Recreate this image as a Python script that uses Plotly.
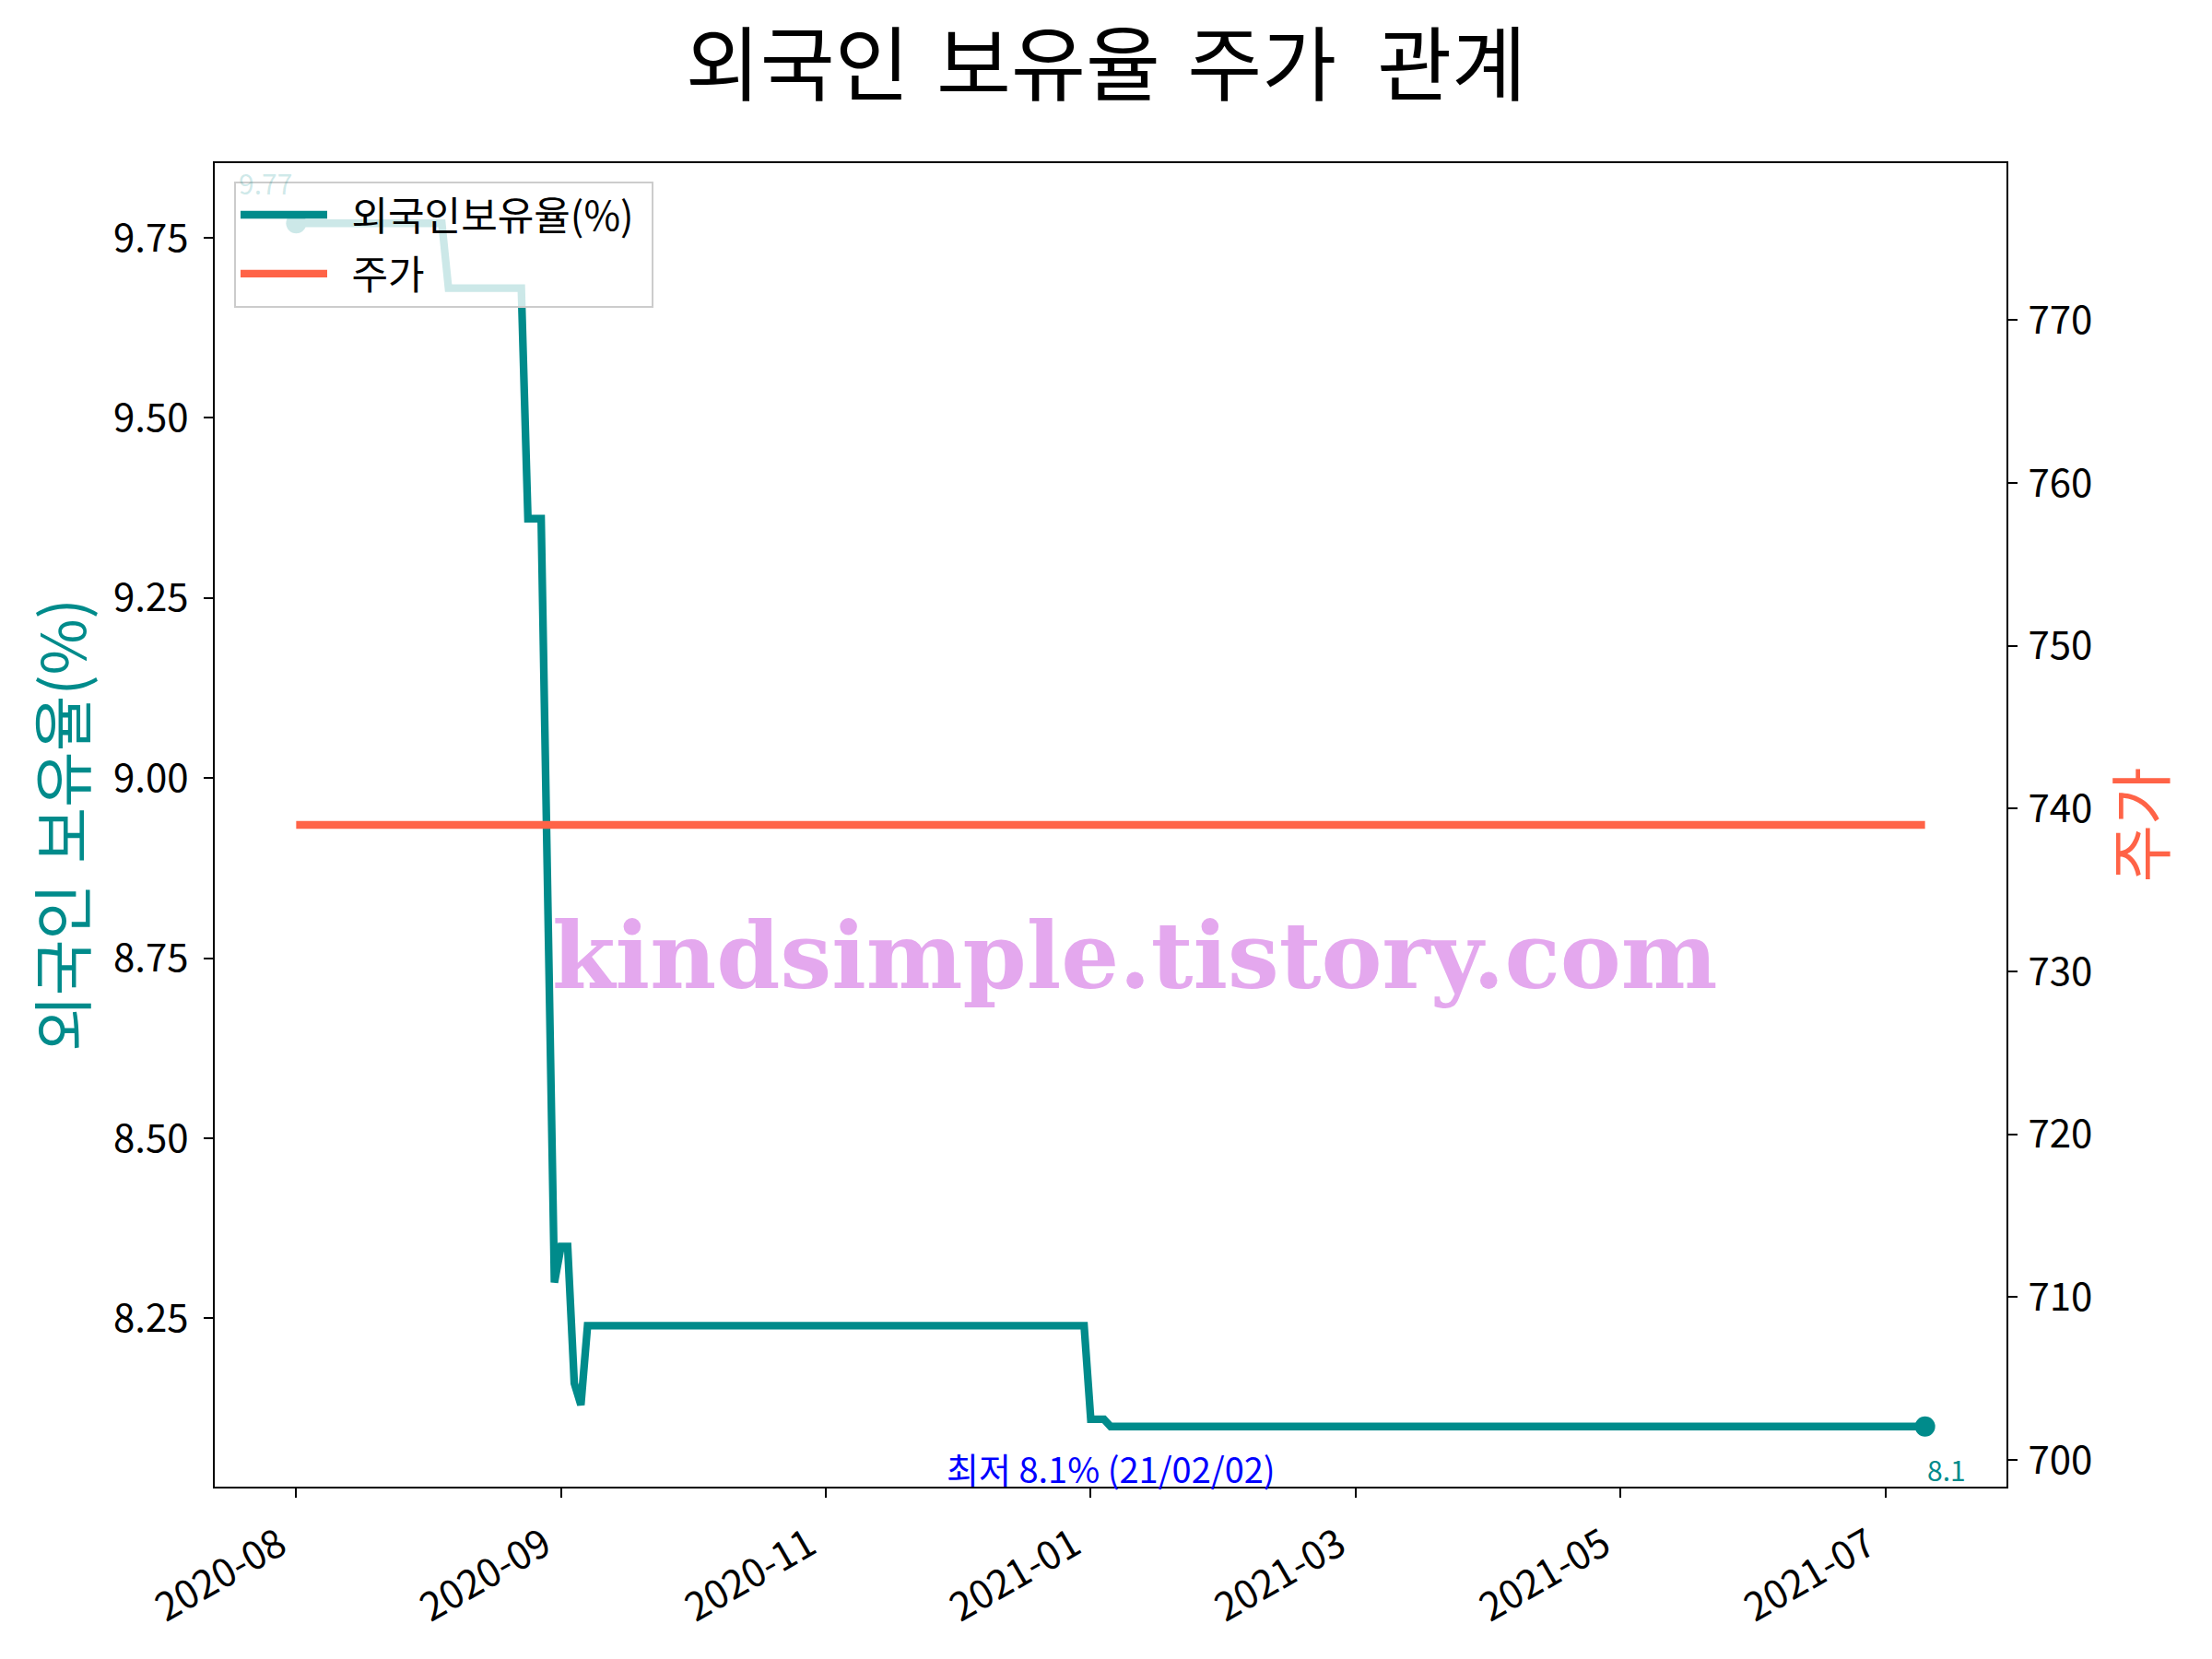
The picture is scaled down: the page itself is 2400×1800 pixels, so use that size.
import plotly.graph_objects as go

# ---------------- data ----------------
# x = trading-day number (0 = 2020-08-03 ... 246 = 2021-07-30); vertices of the step line
ratio_dates = ["2020-08-03", "2020-09-03", "2020-09-04", "2020-09-21", "2020-09-22",
               "2020-09-24", "2020-09-28", "2020-09-29", "2020-10-05", "2020-10-06",
               "2020-10-07", "2020-10-08", "2021-01-27", "2021-01-28", "2021-02-01",
               "2021-02-02", "2021-07-30"]
ratio_idx = [0, 22, 23, 34, 35, 37, 39, 40, 41, 42, 43, 44, 119, 120, 122, 123, 246]
ratio_val = [9.77, 9.77, 9.68, 9.68, 9.36, 9.36, 8.30, 8.35, 8.35, 8.16, 8.13, 8.24,
             8.24, 8.11, 8.11, 8.10, 8.10]

price_idx = [0, 246]
price_val = [739, 739]

tick_idx = [0, 40, 80, 120, 160, 200, 240]
tick_labels = ["2020-08", "2020-09", "2020-11", "2021-01", "2021-03", "2021-05", "2021-07"]

# ---------------- style ----------------
TEAL = "#008B8B"
TEAL_UNDER_LEGEND = "rgba(0,139,139,0.2)"   # start label sits under the translucent legend
TOMATO = "#FF6347"
KR = "Noto Sans CJK KR"
LW = 2.2


def padded(lo, hi, frac=0.05):
    span = hi - lo
    return [lo - frac * span, hi + frac * span]


x_range = padded(min(ratio_idx), max(ratio_idx))
y1_range = padded(min(ratio_val), max(ratio_val))
p0 = price_val[0]
y2_range = padded(p0 - 0.05 * abs(p0), p0 + 0.05 * abs(p0))

min_pos = ratio_val.index(min(ratio_val))
min_date = ratio_dates[min_pos]
min_label = "최저 {}% ({})".format(f"{ratio_val[min_pos]:g}", min_date[2:].replace("-", "/"))

fig = go.Figure()
fig.add_trace(go.Scatter(
    x=ratio_idx, y=ratio_val, mode="lines", name="\u2002외국인보유율(%)\u2004",
    line=dict(color=TEAL, width=8.3), customdata=ratio_dates,
    hovertemplate="%{customdata}<br>%{y:.2f}%<extra></extra>", legendgroup="a"))
fig.add_trace(go.Scatter(
    x=[ratio_idx[0], ratio_idx[-1]], y=[ratio_val[0], ratio_val[-1]], mode="markers",
    marker=dict(size=22, color=TEAL), showlegend=False, hoverinfo="skip", legendgroup="a"))
fig.add_trace(go.Scatter(
    x=price_idx, y=price_val, mode="lines", name="\u2002주가", yaxis="y2",
    line=dict(color=TOMATO, width=8.3), legendgroup="b"))

axis_common = dict(showline=True, linecolor="black", linewidth=LW, ticks="outside",
                   ticklen=10, tickwidth=LW, tickcolor="black", showgrid=False,
                   zeroline=False, tickfont=dict(family=KR, size=42, color="black"))

fig.update_layout(
    width=2400, height=1800,
    margin=dict(l=233, r=223, t=177, b=187),
    paper_bgcolor="white", plot_bgcolor="white",
    title=dict(text="외국인\u2004보유율\u2004주가\u2002관계", x=0.5, xanchor="center",
               y=1 - 71 / 1800, yanchor="middle", yref="container",
               font=dict(family=KR, size=88, color="black")),
    xaxis=dict(range=x_range, tickvals=tick_idx,
               ticktext=[t + "\u2002" for t in tick_labels], tickangle=-30,
               mirror=True, ticklabelstandoff=0, **axis_common),
    yaxis=dict(range=y1_range, dtick=0.25, tick0=0, tickformat=".2f",
               ticklabelstandoff=8,
               title=dict(text="외국인\u2004보유율(%)", standoff=8,
                          font=dict(family=KR, size=66, color=TEAL)),
               **axis_common),
    yaxis2=dict(range=y2_range, dtick=10, tick0=0, overlaying="y", side="right",
                ticklabelstandoff=3,
                title=dict(text="주가", standoff=0,
                           font=dict(family=KR, size=68, color=TOMATO)),
                **axis_common),
    legend=dict(x=0.0108, y=0.9864, xanchor="left", yanchor="top",
                bgcolor="rgba(255,255,255,0.8)", bordercolor="#CCCCCC", borderwidth=2,
                font=dict(family=KR, size=43, color="black"), tracegroupgap=5,
                itemwidth=94),
    showlegend=True,
)

fig.add_annotation(text="kindsimple.tistory.com", xref="paper", yref="paper",
                   x=0.5133, y=0.401, xanchor="center", yanchor="middle", showarrow=False,
                   font=dict(family="DejaVu Serif", size=99, color="rgb(228,168,238)",
                             weight="bold"))
fig.add_annotation(text=f"{ratio_val[0]:g}", x=ratio_idx[0], y=ratio_val[0],
                   xanchor="right", yanchor="bottom", xshift=-2, yshift=20, showarrow=False,
                   font=dict(family=KR, size=30, color=TEAL_UNDER_LEGEND))
fig.add_annotation(text=f"{ratio_val[-1]:g}", x=ratio_idx[-1], y=ratio_val[-1],
                   xanchor="left", yanchor="top", yshift=-22, showarrow=False,
                   font=dict(family=KR, size=30, color=TEAL))
fig.add_annotation(text=min_label, x=ratio_idx[min_pos], y=ratio_val[min_pos],
                   xanchor="center", yanchor="top", yshift=-15, showarrow=False,
                   font=dict(family=KR, size=38, color="blue"))

fig.write_html("out.html", config={"displayModeBar": False},
               post_script="document.body.style.margin='0px';")
